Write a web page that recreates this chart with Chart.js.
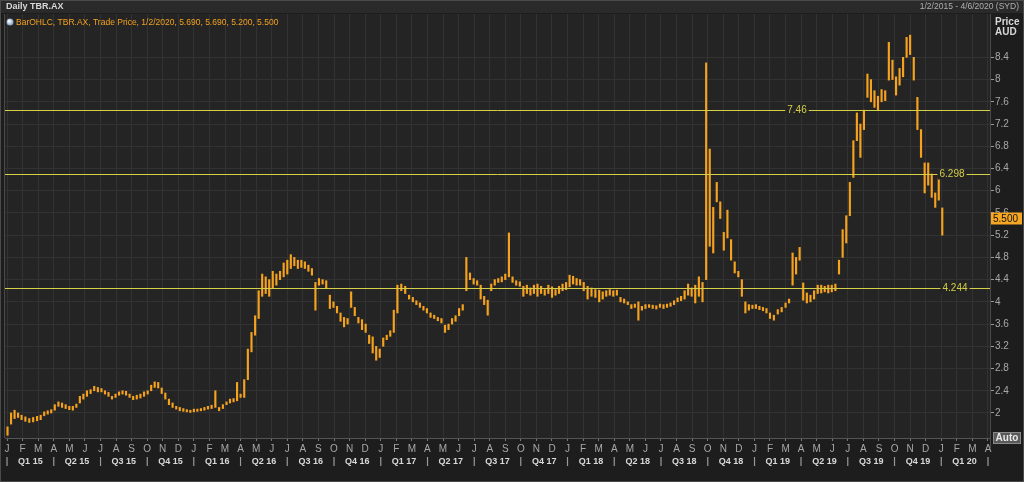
<!DOCTYPE html>
<html>
<head>
<meta charset="utf-8">
<script src="https://cdn.jsdelivr.net/npm/chart.js@4"></script>
<style>
  html, body { margin: 0; padding: 0; background: #1d1d1d; }
  #wrap { width: 1024px; height: 482px; }
</style>
</head>
<body>
<div id="wrap"><canvas id="priceChart" width="1024" height="482"></canvas></div>
<script>
// weekly high/low ranges of TBR.AX (one pair per week from 2 Jan 2015)
const priceRanges = [
  // 2015
  [1.60, 1.75], [1.80, 2.00], [1.90, 2.05], [1.92, 2.00], [1.88, 1.96],
  [1.85, 1.93], [1.83, 1.90], [1.84, 1.92], [1.86, 1.94],
  [1.88, 1.96], [1.95, 2.02], [1.98, 2.04], [2.00, 2.06],
  [2.05, 2.15], [2.12, 2.20], [2.10, 2.18], [2.08, 2.15], [2.06, 2.12],
  [2.05, 2.12], [2.10, 2.16], [2.18, 2.30], [2.25, 2.34],
  [2.30, 2.40], [2.35, 2.42], [2.40, 2.48], [2.38, 2.46],
  [2.38, 2.44], [2.34, 2.40], [2.30, 2.37], [2.25, 2.30], [2.28, 2.34],
  [2.32, 2.38], [2.34, 2.40], [2.32, 2.39], [2.28, 2.34],
  [2.24, 2.30], [2.25, 2.32], [2.27, 2.34], [2.30, 2.38], [2.34, 2.40],
  [2.40, 2.50], [2.46, 2.56], [2.45, 2.55], [2.35, 2.45],
  [2.25, 2.36], [2.15, 2.25], [2.10, 2.18], [2.07, 2.12],
  [2.04, 2.10], [2.03, 2.08], [2.02, 2.06], [2.01, 2.05], [2.02, 2.07],
  // 2016
  [2.03, 2.07], [2.04, 2.08], [2.05, 2.10], [2.07, 2.12],
  [2.08, 2.14], [2.10, 2.40], [2.04, 2.10], [2.08, 2.15],
  [2.15, 2.20], [2.18, 2.25], [2.20, 2.26], [2.22, 2.55], [2.28, 2.34],
  [2.28, 2.60], [2.60, 3.15], [3.10, 3.45], [3.40, 3.75],
  [3.70, 4.20], [4.10, 4.50], [4.15, 4.45], [4.10, 4.40],
  [4.25, 4.55], [4.30, 4.50], [4.40, 4.55], [4.45, 4.70], [4.50, 4.75],
  [4.60, 4.85], [4.65, 4.80], [4.60, 4.75], [4.62, 4.75],
  [4.60, 4.72], [4.55, 4.66], [4.48, 4.60], [3.85, 4.35],
  [4.30, 4.42], [4.32, 4.40], [4.25, 4.38], [3.88, 4.12], [3.90, 4.00],
  [3.80, 3.92], [3.65, 3.80], [3.55, 3.72], [3.60, 3.70],
  [3.90, 4.18], [3.75, 3.90], [3.62, 3.72], [3.50, 3.68],
  [3.45, 3.60], [3.25, 3.40], [3.08, 3.37], [2.95, 3.20], [3.00, 3.15],
  // 2017
  [3.20, 3.35], [3.32, 3.40], [3.38, 3.48], [3.45, 3.85],
  [3.80, 4.30], [4.20, 4.32], [4.15, 4.28], [4.05, 4.12],
  [4.00, 4.08], [3.95, 4.02], [3.90, 3.98], [3.85, 3.92], [3.80, 3.88],
  [3.72, 3.80], [3.70, 3.76], [3.66, 3.72], [3.62, 3.70],
  [3.45, 3.58], [3.50, 3.60], [3.60, 3.70], [3.65, 3.75],
  [3.75, 3.88], [3.85, 3.95], [4.20, 4.80], [4.40, 4.52], [4.32, 4.42],
  [4.30, 4.38], [4.05, 4.30], [3.95, 4.10], [3.76, 4.03],
  [4.20, 4.32], [4.30, 4.40], [4.35, 4.42], [4.36, 4.45],
  [4.40, 4.50], [4.45, 5.24], [4.35, 4.45], [4.30, 4.38], [4.28, 4.36],
  [4.10, 4.28], [4.15, 4.30], [4.12, 4.25], [4.15, 4.30],
  [4.10, 4.32], [4.15, 4.28], [4.12, 4.22], [4.15, 4.30],
  [4.08, 4.27], [4.12, 4.22], [4.15, 4.28], [4.20, 4.32], [4.22, 4.35],
  // 2018
  [4.27, 4.48], [4.32, 4.46], [4.30, 4.42], [4.30, 4.40],
  [4.20, 4.35], [4.05, 4.28], [4.10, 4.25], [4.08, 4.22],
  [4.00, 4.21], [4.05, 4.18], [4.10, 4.20], [4.12, 4.22], [4.10, 4.20],
  [4.12, 4.21], [4.00, 4.08], [3.98, 4.05], [3.95, 4.00],
  [3.88, 3.95], [3.90, 3.96], [3.67, 4.00], [3.85, 3.92],
  [3.88, 3.95], [3.90, 3.95], [3.88, 3.94], [3.87, 3.93], [3.90, 3.96],
  [3.88, 3.95], [3.90, 3.96], [3.92, 3.98], [3.95, 4.02],
  [4.00, 4.07], [4.02, 4.10], [4.05, 4.20], [4.12, 4.32],
  [4.10, 4.25], [3.98, 4.30], [4.10, 4.45], [4.00, 4.35], [4.40, 8.30],
  [5.00, 6.75], [4.88, 5.70], [5.80, 6.15], [5.50, 5.80],
  [4.93, 5.25], [5.15, 5.65], [4.75, 5.12], [4.52, 4.72],
  [4.45, 4.55], [4.10, 4.40], [3.80, 4.00], [3.85, 3.95], [3.88, 3.94],
  // 2019
  [3.88, 3.95], [3.86, 3.92], [3.84, 3.90], [3.80, 3.88],
  [3.70, 3.80], [3.67, 3.76], [3.78, 3.86], [3.82, 3.90],
  [3.90, 3.98], [3.98, 4.05], [4.30, 4.88], [4.50, 4.80], [4.75, 4.98],
  [4.03, 4.34], [3.98, 4.16], [4.00, 4.12], [4.05, 4.20],
  [4.15, 4.30], [4.16, 4.30], [4.18, 4.28], [4.16, 4.30],
  [4.18, 4.30], [4.20, 4.32], [4.50, 4.75], [4.80, 5.30], [5.06, 5.55],
  [5.55, 6.15], [6.24, 6.90], [6.90, 7.40], [6.60, 7.20],
  [7.10, 7.45], [7.68, 8.10], [7.60, 8.00], [7.50, 7.80],
  [7.45, 7.70], [7.60, 7.82], [7.62, 7.80], [7.99, 8.67], [8.00, 8.35],
  [7.72, 8.05], [7.90, 8.20], [8.05, 8.40], [8.40, 8.76],
  [8.45, 8.80], [7.99, 8.40], [7.10, 7.68], [6.60, 7.10],
  [5.96, 6.50], [6.10, 6.50], [5.88, 6.30], [5.70, 5.96], [5.83, 6.24],
  // 2020
  [5.20, 5.69]
];

const firstSession = [2015, 0, 2];
const lastClose = 5.5;
const legendText = "BarOHLC, TBR.AX, Trade Price, 1/2/2020, 5.690, 5.690, 5.200, 5.500";

const levelLines = [7.46, 6.298, 4.244];
const levelLabels = ["7.46", "6.298", "4.244"];

const yTicks = [2, 2.4, 2.8, 3.2, 3.6, 4, 4.4, 4.8, 5.2, 5.6, 6, 6.4, 6.8, 7.2, 7.6, 8, 8.4];
const monthLetters = ["J", "F", "M", "A", "M", "J", "J", "A", "S", "O", "N", "D"];
const quarterLabels = ["Q1 15", "Q2 15", "Q3 15", "Q4 15", "Q1 16", "Q2 16", "Q3 16", "Q4 16",
  "Q1 17", "Q2 17", "Q3 17", "Q4 17", "Q1 18", "Q2 18", "Q3 18", "Q4 18",
  "Q1 19", "Q2 19", "Q3 19", "Q4 19", "Q1 20"];

const FONT = "'Liberation Sans', 'DejaVu Sans', sans-serif";
const ORANGE = "#f5a21e";
const YELLOW = "#d6cf48";

// months since 1 Jan 2015, fractional by day
function monthIndex(d) {
  const dim = new Date(d.getFullYear(), d.getMonth() + 1, 0).getDate();
  return (d.getFullYear() - 2015) * 12 + d.getMonth() + (d.getDate() - 1) / dim;
}

const weekDates = priceRanges.map((_, i) =>
  new Date(firstSession[0], firstSession[1], firstSession[2] + 7 * i));

const barData = priceRanges.map((r, i) => ({ x: monthIndex(weekDates[i]), y: r }));

const monthTicks = [];
for (let m = 0; m <= 63; m++) monthTicks.push(m);

const decorPlugin = {
  id: "decor",
  beforeDraw(chart) {
    const { ctx, chartArea: a } = chart;
    ctx.save();
    ctx.fillStyle = "#1d1d1d";
    ctx.fillRect(0, 0, chart.width, chart.height);
    ctx.fillStyle = "#242424";
    ctx.fillRect(a.left, a.top, a.right - a.left, a.bottom - a.top);
    // title bar
    ctx.fillStyle = "#2a2a2a";
    ctx.fillRect(0, 0, chart.width, a.top - 1);
    ctx.restore();
  },
  afterDatasetsDraw(chart) {
    const { ctx, chartArea: a, scales } = chart;
    const y = scales.y;
    ctx.save();
    // horizontal levels
    ctx.strokeStyle = YELLOW;
    ctx.lineWidth = 1;
    const labelX = [797, 952, 955];
    levelLines.forEach((v, i) => {
      const py = Math.round(y.getPixelForValue(v)) + 0.5;
      ctx.beginPath();
      ctx.moveTo(a.left, py);
      ctx.lineTo(a.right, py);
      ctx.stroke();
      ctx.font = "10px " + FONT;
      const w = ctx.measureText(levelLabels[i]).width;
      ctx.fillStyle = "#242424";
      ctx.fillRect(labelX[i] - w / 2 - 2, py - 5, w + 4, 10);
      ctx.fillStyle = YELLOW;
      ctx.textAlign = "center";
      ctx.textBaseline = "middle";
      ctx.fillText(levelLabels[i], labelX[i], py);
    });
    ctx.restore();
  },
  afterDraw(chart) {
    const { ctx, chartArea: a, scales } = chart;
    const x = scales.x, y = scales.y;
    ctx.save();
    // title row
    ctx.textBaseline = "middle";
    ctx.font = "bold 9px " + FONT;
    ctx.fillStyle = "#d8d8d8";
    ctx.textAlign = "left";
    ctx.fillText("Daily TBR.AX", 6, 7);
    ctx.font = "8.5px " + FONT;
    ctx.fillStyle = "#b0b0b0";
    ctx.textAlign = "right";
    ctx.fillText("1/2/2015 - 4/6/2020 (SYD)", 1019, 7);

    // legend line
    const g = ctx.createRadialGradient(9, 21, 0.5, 10, 22, 4);
    g.addColorStop(0, "#ffffff");
    g.addColorStop(1, "#6f8fb8");
    ctx.fillStyle = g;
    ctx.beginPath();
    ctx.arc(10, 22, 3.5, 0, Math.PI * 2);
    ctx.fill();
    ctx.font = "8.5px " + FONT;
    ctx.fillStyle = ORANGE;
    ctx.textAlign = "left";
    ctx.fillText(legendText, 16, 23);

    // axis header
    ctx.font = "bold 10px " + FONT;
    ctx.fillStyle = "#d8d8d8";
    ctx.fillText("Price", 995, 22);
    ctx.fillText("AUD", 995, 32);

    // last price tag
    const py = y.getPixelForValue(lastClose);
    ctx.fillStyle = "#f5a623";
    ctx.fillRect(a.right + 1, py - 6, 31, 12);
    ctx.fillStyle = "#111";
    ctx.font = "10px " + FONT;
    ctx.fillText(lastClose.toFixed(3), a.right + 3, py + 0.5);

    // Auto button
    ctx.fillStyle = "#5a5a5a";
    ctx.fillRect(a.right + 3, a.bottom - 6, 28, 12);
    ctx.strokeStyle = "#8a8a8a";
    ctx.strokeRect(a.right + 3.5, a.bottom - 5.5, 27, 11);
    ctx.fillStyle = "#e8e8e8";
    ctx.font = "bold 10px " + FONT;
    ctx.textAlign = "center";
    ctx.fillText("Auto", a.right + 17, a.bottom + 0.5);

    // quarter row
    ctx.font = "bold 9px " + FONT;
    const qy = 462;
    quarterLabels.forEach((q, i) => {
      const x0 = x.getPixelForValue(i * 3);
      const xm = x.getPixelForValue(i * 3 + 1.5);
      ctx.fillStyle = "#9a9a9a";
      ctx.fillText("|", x0, qy);
      ctx.fillStyle = "#d8d8d8";
      ctx.fillText(q, xm, qy);
    });
    ctx.fillStyle = "#9a9a9a";
    ctx.fillText("|", x.getPixelForValue(63), qy);

    // outer frame
    ctx.strokeStyle = "#4a4a4a";
    ctx.lineWidth = 1;
    ctx.strokeRect(0.5, 0.5, chart.width - 1, chart.height - 1);
    ctx.beginPath();
    ctx.moveTo(a.right + 0.5, a.top);
    ctx.lineTo(a.right + 0.5, a.bottom + 10);
    ctx.moveTo(a.left - 0.5, a.top);
    ctx.lineTo(a.left - 0.5, a.bottom);
    ctx.stroke();
    ctx.restore();
  }
};

new Chart(document.getElementById("priceChart"), {
  type: "bar",
  data: {
    datasets: [{
      label: "TBR.AX",
      data: barData,
      backgroundColor: ORANGE,
      borderWidth: 0,
      barThickness: 1.5,
      grouped: false
    }]
  },
  options: {
    responsive: false,
    animation: false,
    layout: { padding: { left: 5, top: 14, right: 0, bottom: 0 } },
    plugins: { legend: { display: false }, tooltip: { enabled: false } },
    scales: {
      x: {
        type: "linear",
        offset: false,
        min: -0.13,
        max: 63.13,
        afterBuildTicks: (s) => { s.ticks = monthTicks.map((v) => ({ value: v })); },
        afterFit: (s) => { s.height = 44; },
        ticks: {
          autoSkip: false,
          maxRotation: 0,
          padding: 2,
          color: "#a8a8a8",
          font: { family: FONT, size: 10 },
          callback: (v) => monthLetters[v % 12]
        },
        grid: { offset: false, color: "#323232", tickColor: "#777", tickLength: 3 },
        border: { color: "#555" }
      },
      y: {
        position: "right",
        min: 1.55,
        max: 9.18,
        afterBuildTicks: (s) => { s.ticks = yTicks.map((v) => ({ value: v })); },
        afterFit: (s) => { s.width = 34; },
        ticks: {
          padding: 1,
          color: "#a8a8a8",
          font: { family: FONT, size: 10 },
          callback: (v) => String(v)
        },
        grid: { color: "#323232", tickColor: "#999", tickLength: 4 },
        border: { color: "#666" }
      }
    }
  },
  plugins: [decorPlugin]
});
</script>
</body>
</html>
